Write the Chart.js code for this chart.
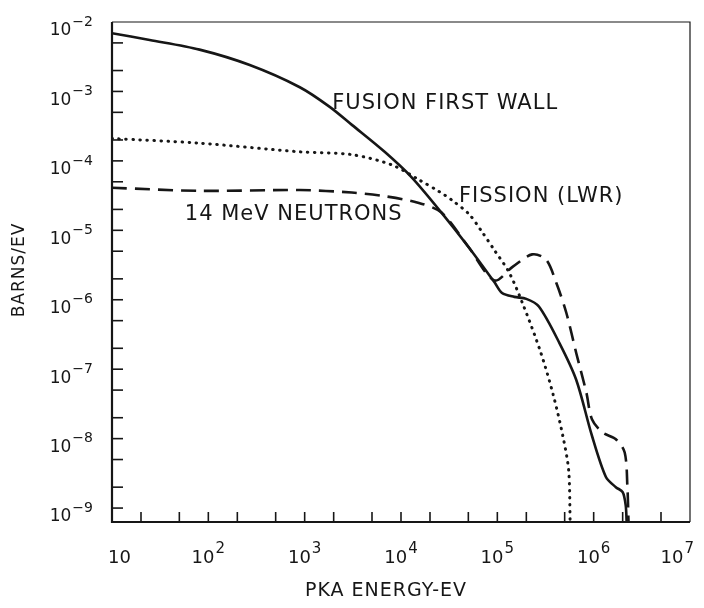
<!DOCTYPE html>
<html>
<head>
<meta charset="utf-8">
<script src="https://cdn.jsdelivr.net/npm/chart.js@4.4.1/dist/chart.umd.min.js"></script>
<style>
  html, body { margin: 0; padding: 0; background: #fff; }
</style>
</head>
<body>
<canvas id="pkaChart" width="704" height="608"></canvas>
<script>
// ---------------------------------------------------------------
// data (PKA energy in eV, spectrum in barns/eV)
// ---------------------------------------------------------------
const fusionEnergy = [10, 24.6, 81, 269, 890, 1820, 3090, 6760, 1.29e4, 2.63e4, 5.0e4, 9.3e4,
  1.12e5, 1.5e5, 2.0e5, 2.7e5, 4.4e5, 6.6e5, 9.6e5, 1.34e6, 1.7e6, 2.0e6, 2.15e6, 2.2e6];
const fusionValues = [6.9e-3, 5.5e-3, 4.0e-3, 2.4e-3, 1.15e-3, 6.0e-4, 3.3e-4, 1.35e-4, 5.8e-5, 1.8e-5, 5.8e-6, 1.8e-6,
  1.25e-6, 1.1e-6, 1.03e-6, 8.0e-7, 2.4e-7, 7.0e-8, 1.1e-8, 2.8e-9, 2.0e-9, 1.7e-9, 1.1e-9, 6.3e-10];

const fissionEnergy = [10, 81, 890, 3090, 8100, 1.55e4, 2.5e4, 3.4e4, 5.1e4, 6.9e4, 9.3e4,
  1.32e5, 1.85e5, 2.8e5, 3.8e5, 4.8e5, 5.5e5, 5.7e5];
const fissionValues = [2.1e-4, 1.8e-4, 1.35e-4, 1.23e-4, 8.7e-5, 5.3e-5, 3.6e-5, 2.7e-5, 1.7e-5, 9.6e-6, 5.2e-6,
  2.5e-6, 8.5e-7, 1.8e-7, 4.3e-8, 1.07e-8, 3.5e-9, 6.3e-10];

const neutronEnergy = [10, 81, 890, 3090, 6760, 1.5e4, 2.63e4, 5.0e4, 9.3e4, 1.45e5, 2.3e5, 3.2e5,
  4.1e5, 5.2e5, 6.6e5, 8.4e5, 9.6e5, 1.23e6, 1.7e6, 2.1e6, 2.24e6, 2.3e6];
const neutronValues = [4.1e-5, 3.7e-5, 3.8e-5, 3.5e-5, 3.1e-5, 2.5e-5, 1.8e-5, 5.8e-6, 1.9e-6, 3.0e-6, 4.5e-6, 3.8e-6,
  1.74e-6, 6.5e-7, 1.7e-7, 4.6e-8, 1.9e-8, 1.23e-8, 9.8e-9, 6.3e-9, 2.0e-9, 6.3e-10];

// axis ticks and labels
const xDecades = [1e1, 1e2, 1e3, 1e4, 1e5, 1e6, 1e7];
const xExponents = ["", "2", "3", "4", "5", "6", "7"];
const xMinorTicks = [20, 50, 200, 500, 2e3, 5e3, 2e4, 5e4, 2e5, 5e5, 2e6, 5e6];
const yDecades = [1e-2, 1e-3, 1e-4, 1e-5, 1e-6, 1e-7, 1e-8, 1e-9];
const yExponents = ["\u22122", "\u22123", "\u22124", "\u22125", "\u22126", "\u22127", "\u22128", "\u22129"];
const yMinorTicks = [5e-3, 2e-3, 5e-4, 2e-4, 5e-5, 2e-5, 5e-6, 2e-6, 5e-7, 2e-7, 5e-8, 2e-8, 5e-9, 2e-9];

// curve labels, placed at (energy, value)
const curveLabels = [
  { text: "FUSION FIRST WALL", x: 1930, y: 6.8e-4 },
  { text: "FISSION (LWR)", x: 4.0e4, y: 3.03e-5 },
  { text: "14 MeV NEUTRONS", x: 57, y: 1.67e-5 },
];

const ink = "#161616";

function toPoints(xs, ys) {
  return xs.map((x, i) => ({ x: x, y: ys[i] }));
}

// =====================================================
// frame, inward ticks, power-of-ten labels, annotations
// =====================================================
const framePlugin = {
  id: "frame",
  afterDraw(chart) {
    const ctx = chart.ctx;
    const a = chart.chartArea;
    const xs = chart.scales.x;
    const ys = chart.scales.y;

    ctx.save();
    ctx.strokeStyle = ink;
    ctx.fillStyle = ink;

    // box: heavy left/bottom, light top/right
    ctx.lineWidth = 2.2;
    ctx.beginPath();
    ctx.moveTo(a.left, a.top);
    ctx.lineTo(a.left, a.bottom);
    ctx.lineTo(a.right, a.bottom);
    ctx.stroke();
    ctx.lineWidth = 1.2;
    ctx.beginPath();
    ctx.moveTo(a.left, a.top);
    ctx.lineTo(a.right, a.top);
    ctx.lineTo(a.right, a.bottom);
    ctx.stroke();

    // inward ticks
    ctx.lineWidth = 1.6;
    xDecades.concat(xMinorTicks).forEach(function (v) {
      const px = xs.getPixelForValue(v);
      if (px <= a.left + 1 || px >= a.right - 1) return;
      ctx.beginPath();
      ctx.moveTo(px, a.bottom);
      ctx.lineTo(px, a.bottom - 10);
      ctx.stroke();
    });
    yDecades.concat(yMinorTicks).forEach(function (v) {
      const py = ys.getPixelForValue(v);
      if (py <= a.top + 1 || py >= a.bottom - 1) return;
      ctx.beginPath();
      ctx.moveTo(a.left, py);
      ctx.lineTo(a.left + 11, py);
      ctx.stroke();
    });

    // power labels: "10" plus raised exponent
    function powerLabel(exp, x, y, align, baseSize, expSize) {
      ctx.font = baseSize + "px 'DejaVu Sans'";
      const wb = ctx.measureText("10").width;
      ctx.font = expSize + "px 'DejaVu Sans'";
      const we = exp ? ctx.measureText(exp).width + 1 : 0;
      const total = wb + we;
      let left = align === "right" ? x - total : x - total / 2;
      if (align !== "right") {
        left = Math.max(left, a.left - 4);
        left = Math.min(left, chart.width - 10 - total);
      }
      ctx.textAlign = "left";
      ctx.textBaseline = "middle";
      ctx.font = baseSize + "px 'DejaVu Sans'";
      ctx.fillText("10", left, y);
      if (exp) {
        ctx.font = expSize + "px 'DejaVu Sans'";
        ctx.fillText(exp, left + wb + 1, y - 9);
      }
    }

    xDecades.forEach(function (v, i) {
      powerLabel(xExponents[i], xs.getPixelForValue(v), a.bottom + 36, "center", 18, 15);
    });
    yDecades.forEach(function (v, i) {
      powerLabel(yExponents[i], a.left - 19, ys.getPixelForValue(v) + 9, "right", 17, 14);
    });

    // axis titles
    ctx.letterSpacing = "1px";
    ctx.font = "19px 'DejaVu Sans'";
    ctx.textAlign = "center";
    ctx.textBaseline = "middle";
    ctx.fillText("PKA ENERGY-EV", 386, 591);
    ctx.save();
    ctx.translate(20, 270);
    ctx.rotate(-Math.PI / 2);
    ctx.font = "17px 'DejaVu Sans'";
    ctx.fillText("BARNS/EV", 0, 0);
    ctx.restore();

    // curve labels
    ctx.font = "21px 'DejaVu Sans'";
    ctx.textAlign = "left";
    curveLabels.forEach(function (c) {
      ctx.fillText(c.text, xs.getPixelForValue(c.x), ys.getPixelForValue(c.y));
    });
    ctx.restore();
  },
};

const pkaCtx = document.getElementById("pkaChart");

new Chart(pkaCtx, {
  type: "line",
  data: {
    datasets: [
      {
        label: "Fusion first wall",
        data: toPoints(fusionEnergy, fusionValues),
        borderColor: ink,
        borderWidth: 2.6,
        tension: 0.3,
        pointRadius: 0,
      },
      {
        label: "Fission (LWR)",
        data: toPoints(fissionEnergy, fissionValues),
        borderColor: ink,
        borderWidth: 3,
        borderDash: [0.5, 6.5],
        borderCapStyle: "round",
        tension: 0.3,
        pointRadius: 0,
      },
      {
        label: "14 MeV neutrons",
        data: toPoints(neutronEnergy, neutronValues),
        borderColor: ink,
        borderWidth: 2.6,
        borderDash: [15, 8],
        tension: 0.3,
        pointRadius: 0,
      },
    ],
  },
  options: {
    responsive: false,
    animation: false,
    layout: {
      padding: { left: 112, right: 14, top: 22, bottom: 86 },
    },
    scales: {
      x: { type: "logarithmic", min: 10, max: 1e7, display: false },
      y: { type: "logarithmic", min: 6.3e-10, max: 1e-2, display: false },
    },
    plugins: {
      legend: { display: false },
      tooltip: { enabled: false },
    },
  },
  plugins: [framePlugin],
});
</script>
</body>
</html>
